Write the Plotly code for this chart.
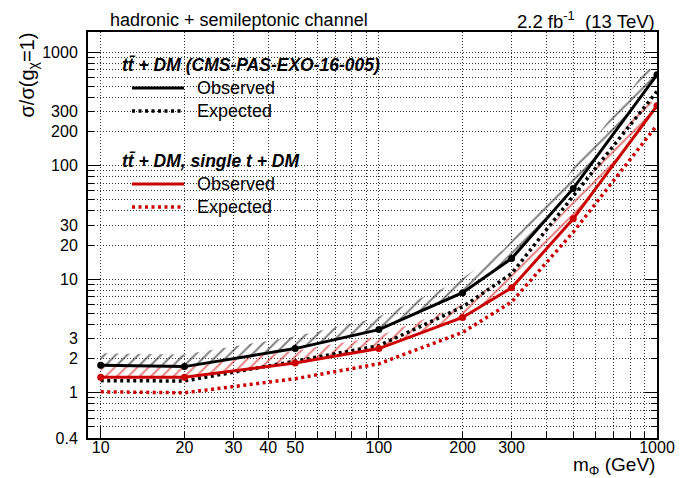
import numpy as np
import plotly.graph_objects as go

# ---------------- data ----------------
mass = [10, 20, 50, 100, 200, 300, 500, 1000]
obs_ttdm = [1.75, 1.70, 2.45, 3.6, 7.6, 15.2, 63, 630]
exp_ttdm = [1.28, 1.27, 1.90, 2.6, 5.7, 11.2, 54, 450]
obs_comb = [1.37, 1.37, 1.83, 2.45, 4.6, 8.4, 34, 337]
exp_comb = [1.02, 1.00, 1.33, 1.80, 3.4, 6.3, 26, 227]

x_labeled = [10, 20, 30, 40, 50, 100, 200, 300, 1000]
x_minor = [60, 70, 80, 90, 400, 500, 600, 700, 800, 900]
x_decades = [10, 100, 1000]
y_labeled = [0.4, 1, 2, 3, 10, 20, 30, 100, 200, 300, 1000]
y_minor = [0.5, 0.6, 0.7, 0.8, 0.9, 4, 5, 6, 7, 8, 9, 40, 50, 60, 70, 80, 90,
           400, 500, 600, 700, 800, 900]
y_decades = [1, 10, 100, 1000]

# ---------------- layout geometry ----------------
FIG_W, FIG_H = 684, 478
ML, MR, MT, MB = 80, 35, 24, 48
X_RANGE = (9, 1000)
Y_RANGE = (0.4, 1500)
PW = FIG_W - ML - MR
PH = FIG_H - MT - MB
SX = PW / (np.log10(X_RANGE[1]) - np.log10(X_RANGE[0]))
SY = PH / (np.log10(Y_RANGE[1]) - np.log10(Y_RANGE[0]))

FONT = "Liberation Sans, Arial, Helvetica, sans-serif"
RED = "#cc0000"


def hatch_polygon(xs, ys, width_px=12.0):
    """Band of given pixel width on the upper side of a polyline (ROOT exclusion style)."""
    px = SX * np.log10(np.asarray(xs, float))
    py = -SY * np.log10(np.asarray(ys, float))
    n = len(px)
    normals = []
    for i in range(n - 1):
        dx, dy = px[i + 1] - px[i], py[i + 1] - py[i]
        L = np.hypot(dx, dy)
        normals.append(np.array([dy / L, -dx / L]))
    offs = []
    for i in range(n):
        if i == 0:
            nv = normals[0]
            k = width_px
        elif i == n - 1:
            nv = normals[-1]
            k = width_px
        else:
            a = normals[i - 1] + normals[i]
            nv = a / np.linalg.norm(a)
            k = width_px / max(np.dot(nv, normals[i]), 0.3)
        offs.append((px[i] + nv[0] * k, py[i] + nv[1] * k))
    ox = np.array([o[0] for o in offs])
    oy = np.array([o[1] for o in offs])
    poly_px = np.concatenate([px, ox[::-1], px[:1]])
    poly_py = np.concatenate([py, oy[::-1], py[:1]])
    return 10 ** (poly_px / SX), 10 ** (-poly_py / SY)


fig = go.Figure()

# hatched exclusion bands
for xs_, ys_, col in [(mass, obs_ttdm, "black"), (mass, obs_comb, RED)]:
    hx, hy = hatch_polygon(xs_, ys_)
    fig.add_trace(go.Scatter(
        x=hx, y=hy, mode="lines", fill="toself",
        line=dict(width=0, color="rgba(0,0,0,0)"),
        fillcolor="rgba(0,0,0,0)",
        fillpattern=dict(shape="/", fgcolor=col, bgcolor="rgba(0,0,0,0)",
                         size=8, solidity=0.25),
        hoverinfo="skip", showlegend=False))

DOT = "3px,3.5px"
fig.add_trace(go.Scatter(x=mass, y=exp_comb, mode="lines",
                         line=dict(color=RED, width=3.5, dash=DOT), showlegend=False))
fig.add_trace(go.Scatter(x=mass, y=exp_ttdm, mode="lines",
                         line=dict(color="black", width=3.5, dash=DOT), showlegend=False))
fig.add_trace(go.Scatter(x=mass, y=obs_comb, mode="lines+markers",
                         line=dict(color=RED, width=3), marker=dict(size=7, color=RED),
                         showlegend=False))
fig.add_trace(go.Scatter(x=mass, y=obs_ttdm, mode="lines+markers",
                         line=dict(color="black", width=3), marker=dict(size=7, color="black"),
                         showlegend=False))
# invisible trace to activate overlay axes (long decade ticks)
fig.add_trace(go.Scatter(x=[X_RANGE[0]], y=[Y_RANGE[0]], xaxis="x2", yaxis="y2",
                         mode="markers", marker=dict(opacity=0), hoverinfo="skip",
                         showlegend=False))

GRID = dict(showgrid=True, gridcolor="#333333", gridwidth=1, griddash="1px,2px")

fig.update_layout(
    width=FIG_W, height=FIG_H,
    margin=dict(l=ML, r=MR, t=MT, b=MB, pad=0),
    paper_bgcolor="white", plot_bgcolor="white",
    font=dict(family=FONT, size=16, color="black"),
    showlegend=False,
    xaxis=dict(type="log", range=[np.log10(X_RANGE[0]), np.log10(X_RANGE[1])],
               tickmode="array", tickvals=x_labeled, ticktext=[str(v) for v in x_labeled],
               ticks="inside", ticklen=6, tickwidth=1, tickcolor="black",
               showline=True, linecolor="black", linewidth=2, mirror=True,
               tickfont=dict(size=16), zeroline=False, ticklabelstandoff=-6,
               minor=dict(tickvals=x_minor, ticks="inside", ticklen=6, tickcolor="black",
                          **GRID),
               **GRID),
    yaxis=dict(type="log", range=[np.log10(Y_RANGE[0]), np.log10(Y_RANGE[1])],
               tickmode="array", tickvals=y_labeled, ticktext=[str(v) for v in y_labeled],
               ticks="inside", ticklen=6, tickwidth=1, tickcolor="black",
               showline=True, linecolor="black", linewidth=2, mirror="ticks",
               tickfont=dict(size=16), zeroline=False, ticklabelstandoff=5,
               minor=dict(tickvals=y_minor, ticks="inside", ticklen=6, tickcolor="black",
                          **GRID),
               **GRID),
    xaxis2=dict(type="log", overlaying="x", side="bottom", anchor="y",
                range=[np.log10(X_RANGE[0]), np.log10(X_RANGE[1])],
                tickmode="array", tickvals=x_decades, ticks="inside", ticklen=12,
                tickcolor="black", showticklabels=False, showgrid=False, zeroline=False),
    yaxis2=dict(type="log", overlaying="y", side="left", anchor="x",
                range=[np.log10(Y_RANGE[0]), np.log10(Y_RANGE[1])],
                tickmode="array", tickvals=y_decades, ticks="inside", ticklen=12,
                tickcolor="black", showticklabels=False, showgrid=False, zeroline=False,
                mirror="ticks", showline=False),
)


def pp(xpx, ypx):
    return (xpx - ML) / PW, (FIG_H - MB - ypx) / PH


ann = []
shapes = []


def text(xpx, ypx, s, size, xanchor="left", yanchor="middle", angle=0):
    x, y = pp(xpx, ypx)
    ann.append(dict(x=x, y=y, xref="paper", yref="paper", text=s, showarrow=False,
                    xanchor=xanchor, yanchor=yanchor, textangle=angle,
                    font=dict(family=FONT, size=size, color="black")))


def sample(ypx, color, dash):
    x0, y0 = pp(124, ypx)
    x1, _ = pp(176, ypx)
    shapes.append(dict(type="line", xref="paper", yref="paper", x0=x0, x1=x1, y0=y0, y1=y0,
                       line=dict(color=color, width=3 if dash == "solid" else 3.5, dash=dash)))


text(100, 12, "hadronic + semileptonic channel", 18)
text(649, 12, "2.2 fb<sup>-1</sup>\u00a0 (13 TeV)", 18.5, xanchor="right")
text(649, 458, "m<sub>Φ</sub> (GeV)", 19, xanchor="right")
text(20, 23, "σ/σ(g<sub>χ</sub>=1)", 20, xanchor="center", yanchor="top", angle=-90)

text(112, 57, "<b><i>tt\u0304 + DM (CMS-PAS-EXO-16-005)</i></b>", 17.5)
sample(80, "black", "solid")
text(187, 80, "Observed", 18)
sample(103, "black", DOT)
text(187, 103, "Expected", 18)
text(112, 153, "<b><i>tt\u0304 + DM, single t + DM</i></b>", 17.5)
sample(176, RED, "solid")
text(187, 176, "Observed", 18)
sample(199, RED, DOT)
text(187, 199, "Expected", 18)

fig.update_layout(annotations=ann, shapes=shapes)
fig.write_html("out.html")
